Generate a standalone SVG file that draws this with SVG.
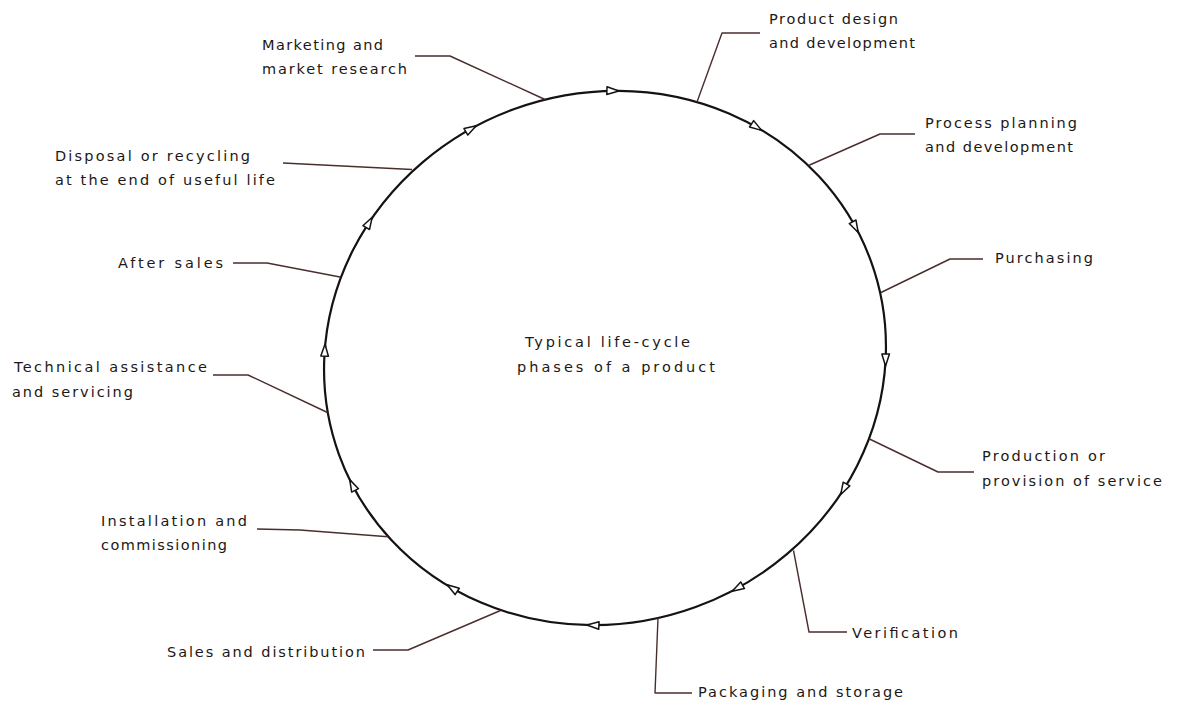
<svg xmlns="http://www.w3.org/2000/svg" width="1177" height="703" viewBox="0 0 1177 703">
<style>
.t{font-family:"DejaVu Sans","Liberation Sans",Arial,sans-serif;font-size:14.5px;fill:#1c1816}
.ring{fill:none;stroke:#151212;stroke-width:2.2}
.lead{fill:none;stroke:#4a2e2c;stroke-width:1.4;stroke-linejoin:round}
.arr{fill:#fff;stroke:#151212;stroke-width:1.5;stroke-linejoin:round}
</style>
<defs>
<path id="ah" d="M6,0 L-6,-3.8 L-6,3.8 Z"/>
</defs>
<rect width="1177" height="703" fill="#fff"/>
<g id="cycle">
<ellipse class="ring" cx="605" cy="358" rx="283" ry="265" transform="rotate(-20 605 358)"/>
<g id="arrows">
<use href="#ah" class="arr" transform="translate(612.9,90.8) rotate(1.7)"/>
<use href="#ah" class="arr" transform="translate(756.6,127.1) rotate(33.3)"/>
<use href="#ah" class="arr" transform="translate(855.4,227.1) rotate(62.4)"/>
<use href="#ah" class="arr" transform="translate(885.6,360) rotate(90.4)"/>
<use href="#ah" class="arr" transform="translate(843.6,489.3) rotate(118.8)"/>
<use href="#ah" class="arr" transform="translate(737.4,588.2) rotate(150.1)"/>
<use href="#ah" class="arr" transform="translate(592.9,625.2) rotate(182.6)"/>
<use href="#ah" class="arr" transform="translate(452.2,588.1) rotate(213.6)"/>
<use href="#ah" class="arr" transform="translate(352.4,485) rotate(243.3)"/>
<use href="#ah" class="arr" transform="translate(324.8,350.2) rotate(271.6)"/>
<use href="#ah" class="arr" transform="translate(369.2,222.4) rotate(299.9)"/>
<use href="#ah" class="arr" transform="translate(471.1,128.8) rotate(329.7)"/>
</g>
</g>
<g id="connectors">
<polyline class="lead" points="415,56 450,56 545,99.5"/>
<polyline class="lead" points="760,33 722,33 697,102"/>
<polyline class="lead" points="915,134 880,134 808.5,165.5"/>
<polyline class="lead" points="983,259 950,259 881,292.5"/>
<polyline class="lead" points="974,472 938,472 869.5,439"/>
<polyline class="lead" points="847,632 809,632 793.5,550.5"/>
<polyline class="lead" points="692,693 655,693 658,618"/>
<polyline class="lead" points="373,650 408,650 500.5,610.5"/>
<polyline class="lead" points="257,529 300,530 388,536.8"/>
<polyline class="lead" points="213,375 248,375 327.5,412.5"/>
<polyline class="lead" points="233,263 267,263 340,277"/>
<polyline class="lead" points="283,163 412,169.5"/>
</g>
<g id="n-center"><text class="t" x="525" y="347" textLength="165">Typical life-cycle</text><text class="t" x="517" y="372" textLength="198">phases of a product</text></g>
<g id="n-marketing"><text class="t" x="262" y="50" textLength="121">Marketing and</text><text class="t" x="262" y="74" textLength="145">market research</text></g>
<g id="n-design"><text class="t" x="769" y="24" textLength="129">Product design</text><text class="t" x="769" y="48" textLength="146">and development</text></g>
<g id="n-process"><text class="t" x="925" y="128" textLength="152">Process planning</text><text class="t" x="925" y="152" textLength="148">and development</text></g>
<g id="n-purchasing"><text class="t" x="995" y="263" textLength="98">Purchasing</text></g>
<g id="n-production"><text class="t" x="982" y="461" textLength="123">Production or</text><text class="t" x="982" y="486" textLength="180">provision of service</text></g>
<g id="n-verification"><text class="t" x="852" y="638" textLength="106">Verification</text></g>
<g id="n-packaging"><text class="t" x="698" y="697" textLength="205">Packaging and storage</text></g>
<g id="n-sales"><text class="t" x="167" y="657" textLength="198">Sales and distribution</text></g>
<g id="n-installation"><text class="t" x="101" y="526" textLength="146">Installation and</text><text class="t" x="101" y="550" textLength="126">commissioning</text></g>
<g id="n-technical"><text class="t" x="14" y="372" textLength="193">Technical assistance</text><text class="t" x="12" y="397" textLength="121">and servicing</text></g>
<g id="n-aftersales"><text class="t" x="118" y="268" textLength="105">After sales</text></g>
<g id="n-disposal"><text class="t" x="55" y="161" textLength="195">Disposal or recycling</text><text class="t" x="55" y="185" textLength="220">at the end of useful life</text></g>
</svg>
